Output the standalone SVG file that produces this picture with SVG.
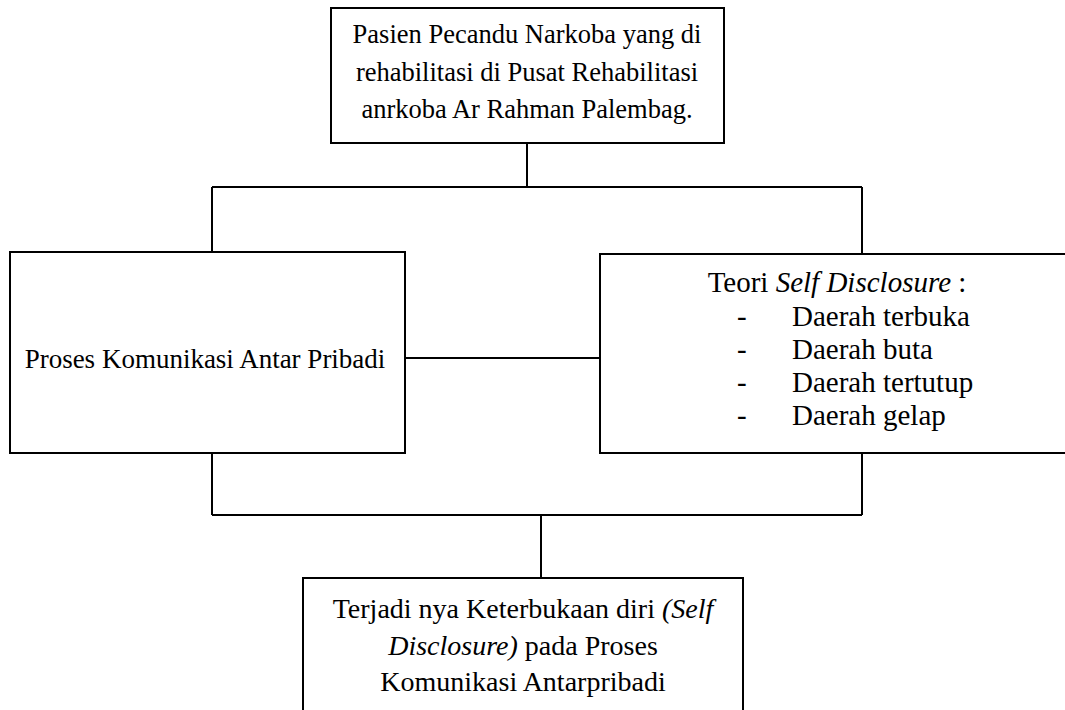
<svg xmlns="http://www.w3.org/2000/svg" width="1065" height="710" viewBox="0 0 1065 710">
<style>
.box{fill:#fff;stroke:#000;stroke-width:2}
.ln{stroke:#000;stroke-width:2;fill:none}
.t{fill:#000}
.c{text-anchor:middle}
.i{font-style:italic}
</style>
<rect width="1065" height="710" fill="#fff"/>
<g id="connectors">
<line class="ln" x1="527" y1="143" x2="527" y2="187"/>
<line class="ln" x1="212" y1="187" x2="862" y2="187"/>
<line class="ln" x1="212" y1="187" x2="212" y2="252"/>
<line class="ln" x1="862" y1="187" x2="862" y2="254"/>
<line class="ln" x1="405" y1="358" x2="600" y2="358"/>
<line class="ln" x1="212" y1="453" x2="212" y2="515"/>
<line class="ln" x1="862" y1="453" x2="862" y2="515"/>
<line class="ln" x1="212" y1="515" x2="862" y2="515"/>
<line class="ln" x1="541" y1="515" x2="541" y2="578"/>
</g>
<g class="t" font-family="Liberation Serif, Tinos, DejaVu Serif, serif">
<g id="top" font-size="26.5">
<rect class="box" x="331" y="8" width="393" height="135"/>
<text class="c" x="527" y="43">Pasien Pecandu Narkoba yang di</text>
<text class="c" x="527" y="81">rehabilitasi di Pusat Rehabilitasi</text>
<text class="c" x="527" y="118">anrkoba Ar Rahman Palembag.</text>
</g>
<g id="left" font-size="27">
<rect class="box" x="10" y="252" width="395" height="201"/>
<text class="c" x="205" y="368">Proses Komunikasi Antar Pribadi</text>
</g>
<g id="right" font-size="29">
<rect class="box" x="600" y="254" width="470" height="199"/>
<text class="c" x="837" y="292">Teori <tspan class="i">Self Disclosure</tspan> :</text>
<text x="737" y="326">-</text><text x="792" y="326">Daerah terbuka</text>
<text x="737" y="359">-</text><text x="792" y="359">Daerah buta</text>
<text x="737" y="392">-</text><text x="792" y="392">Daerah tertutup</text>
<text x="737" y="425">-</text><text x="792" y="425">Daerah gelap</text>
</g>
<g id="bottom" font-size="28">
<rect class="box" x="303" y="578" width="440" height="140"/>
<text class="c" x="523" y="618">Terjadi nya Keterbukaan diri <tspan class="i">(Self</tspan></text>
<text class="c" x="523" y="655"><tspan class="i">Disclosure)</tspan> pada Proses</text>
<text class="c" x="523" y="691">Komunikasi Antarpribadi</text>
</g>
</g>
</svg>
